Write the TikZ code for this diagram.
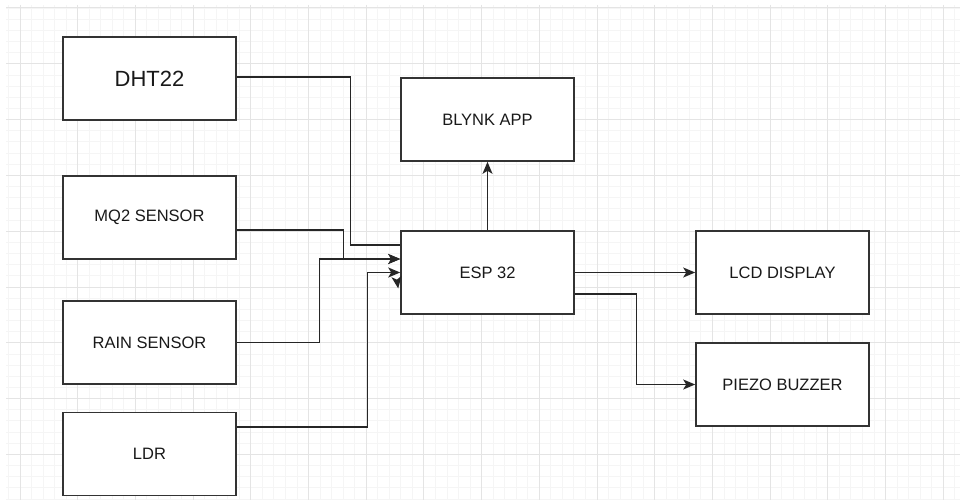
\documentclass[tikz,border=0pt]{standalone}
\usepackage{fontspec}
\setmainfont{Liberation Sans}
\definecolor{gridmin}{HTML}{F5F5F5}
\definecolor{gridmaj}{HTML}{E4E4E4}
\definecolor{boxink}{HTML}{333333}
\usetikzlibrary{positioning, arrows.meta, calc}

\begin{document}
\begin{tikzpicture}[x=1pt, y=-1pt,
    every node/.style={font=\fontsize{16.5}{20}\selectfont, text=black!90},
    blk/.style={draw=boxink, line width=1.6pt, fill=white, minimum width=173pt, minimum height=83pt, inner sep=0pt},
    wire/.style={draw=black!85, line width=1.3pt},
    arr/.style={wire, -{Stealth[length=12pt, width=10pt, inset=3pt]}}]
        \useasboundingbox (0,0) rectangle (960,500);
        % background grid
        \foreach \i in {0,...,82} \draw[gridmin, line width=0.9pt] ({8.46+\i*11.54},5) -- ({8.46+\i*11.54},500);
        \foreach \j in {0,...,44} \draw[gridmin, line width=0.9pt] (6,{8+\j*11.16}) -- (960,{8+\j*11.16});
        \foreach \i in {0,...,16} \draw[gridmaj, line width=1pt] ({20+\i*57.7},5) -- ({20+\i*57.7},500);
        \foreach \j in {0,...,8} \draw[gridmaj, line width=1pt] (6,{8+\j*55.8}) -- (960,{8+\j*55.8});
        % blocks
        \node[blk, font=\fontsize{22}{26}\selectfont] (dht) at (149.5,78.5) {DHT22};
        \node[blk] (mq) at (149.5,217.5) {MQ2 SENSOR};
        \node[blk] (rain) at (149.5,342.5) {RAIN SENSOR};
        \node[blk] (ldr) at (149.5,454) {LDR};
        \node[blk] (blynk) at (487.5,119.5) {BLYNK APP};
        \node[blk] (esp) at (487.5,272.5) {ESP 32};
        \node[blk] (lcd) at (782.5,272.5) {LCD DISPLAY};
        \node[blk] (piezo) at (782.5,384.5) {PIEZO BUZZER};
        % sensor wires
        \draw[wire] ([yshift=1.5pt]dht.east) -- ++(114,0) |- ([yshift=27.5pt]esp.west);
        \draw[arr] (rain.east) -- ++(83,0) |- ([yshift=13.5pt]esp.west);
        \draw[arr] ([yshift=-12.5pt]mq.east) -- ++(107,0) |- ([yshift=13.5pt]esp.west);
        \draw[arr] ([yshift=27pt]ldr.east) -- ++(131,0) |- (esp.west);
        \draw[arr] ([xshift=-3pt, yshift=-9pt]esp.west) -- ([xshift=-2pt, yshift=-16pt]esp.west);
        % outputs
        \draw[arr] (esp.north) -- (blynk.south);
        \draw[arr] (esp.east) -- (lcd.west);
        \draw[arr] ([yshift=-21.5pt]esp.east) -- ++(62,0) |- (piezo.west);
      \end{tikzpicture}
\end{document}
